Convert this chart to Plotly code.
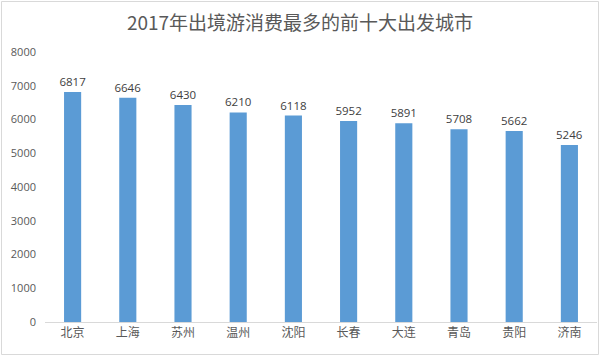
import plotly.graph_objects as go

cities = ["北京", "上海", "苏州", "温州", "沈阳", "长春", "大连", "青岛", "贵阳", "济南"]
values = [6817, 6646, 6430, 6210, 6118, 5952, 5891, 5708, 5662, 5246]
y_ticks = [0, 1000, 2000, 3000, 4000, 5000, 6000, 7000, 8000]

W, H = 600, 356
ml, mr, mt, mb = 45, 3, 52, 34
pw, ph = W - ml - mr, H - mt - mb

fig = go.Figure(go.Bar(
    x=cities, y=values,
    marker=dict(color="#5B9BD5", line=dict(width=0)),
    text=[str(v) for v in values], textposition="outside",
    constraintext="none",
    textfont=dict(family="Open Sans, sans-serif", size=11.5, color="#404040"),
    cliponaxis=False,
))

fig.update_layout(
    width=W, height=H,
    margin=dict(l=ml, r=mr, t=mt, b=mb, autoexpand=False),
    paper_bgcolor="white", plot_bgcolor="white",
    bargap=0.69,
    showlegend=False,
    title=dict(text="2017年出境游消费最多的前十大出发城市", x=0.5, xanchor="center",
               y=1 - 23 / H, yanchor="middle",
               font=dict(family="Noto Sans CJK SC, sans-serif", size=19, color="#595959")),
    font=dict(family="Noto Sans CJK SC, sans-serif", color="#595959"),
    xaxis=dict(showgrid=False, showline=True, linecolor="#d9d9d9", linewidth=1,
               ticks="", automargin=False,
               tickfont=dict(size=12, color="#595959")),
    yaxis=dict(range=[0, 8000], tickvals=y_ticks, showgrid=False, zeroline=False,
               showline=False, ticks="", ticklabelstandoff=8, automargin=False,
               tickfont=dict(family="Open Sans, sans-serif", size=11, color="#595959")),
    shapes=[dict(type="rect", xref="paper", yref="paper",
                 x0=-(ml - 1.5) / pw, x1=1 + (mr - 1.5) / pw,
                 y0=-(mb - 1.5) / ph, y1=1 + (mt - 1.5) / ph,
                 line=dict(color="#d9d9d9", width=1), fillcolor="rgba(0,0,0,0)")],
)

fig.write_html("out.html",
               config={"displayModeBar": False, "staticPlot": True},
               post_script="document.body.style.margin='0';document.body.style.overflow='hidden';")
